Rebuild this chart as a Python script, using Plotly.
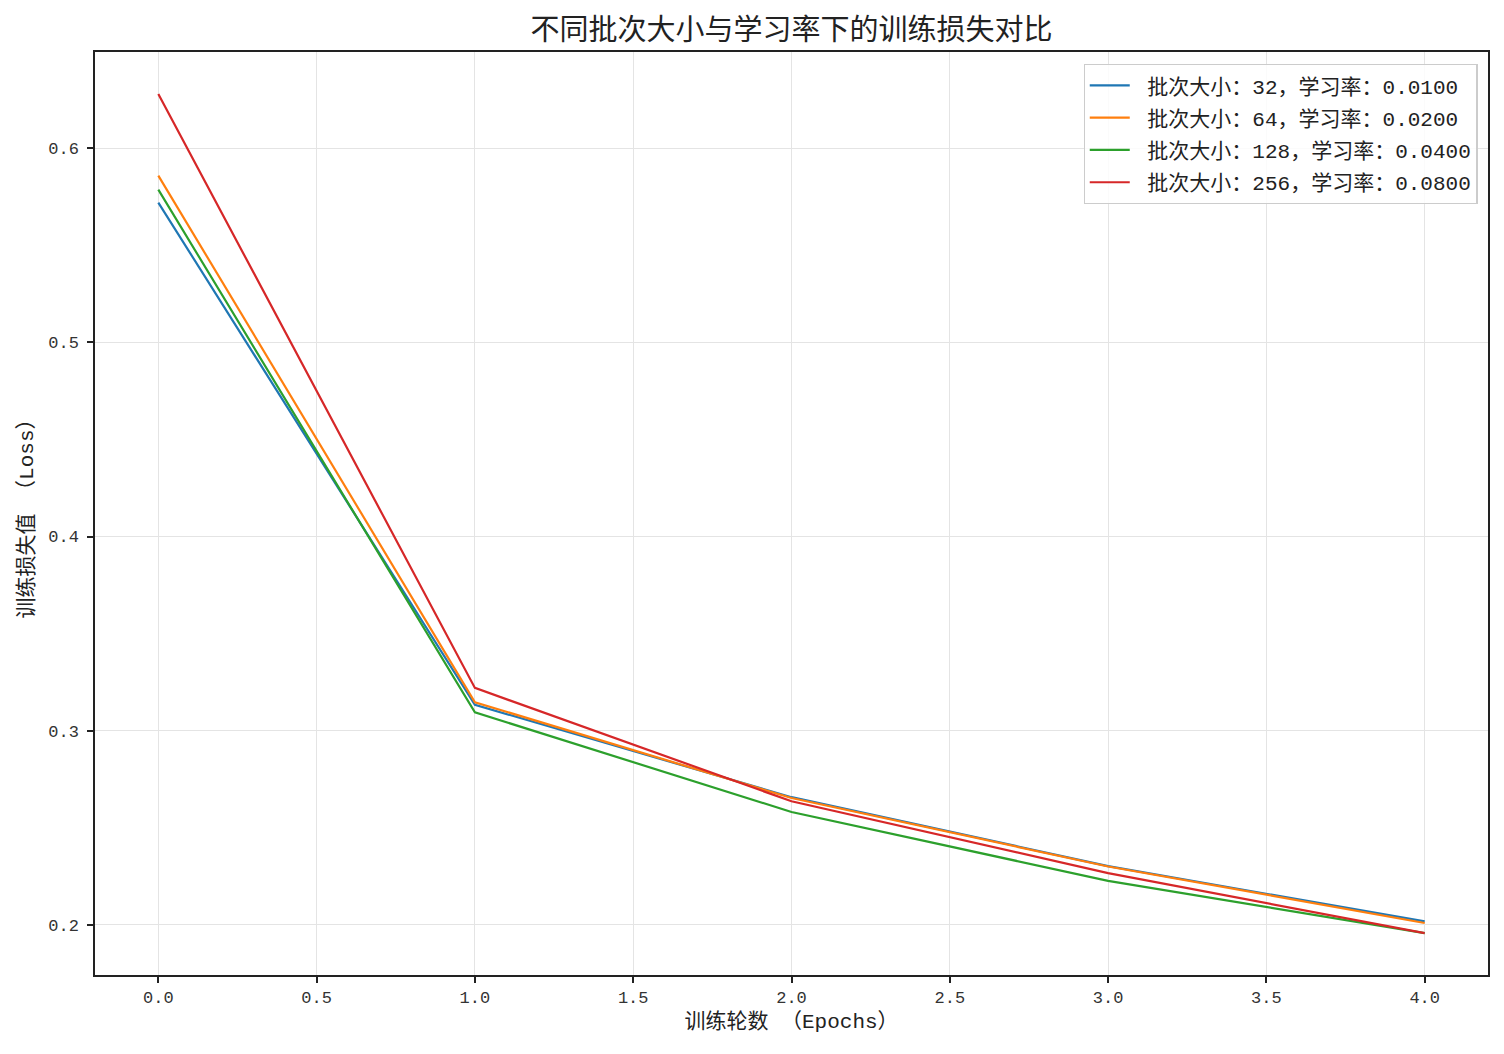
import plotly.graph_objects as go

# 数据
epochs = [0, 1, 2, 3, 4]
batch_sizes = [32, 64, 128, 256]
learning_rates = [0.01, 0.02, 0.04, 0.08]

loss_bs32 = [0.572, 0.3133, 0.2657, 0.2302, 0.2017]
loss_bs64 = [0.5859, 0.3146, 0.2653, 0.2300, 0.2009]
loss_bs128 = [0.5787, 0.3094, 0.2581, 0.2226, 0.1957]
loss_bs256 = [0.628, 0.322, 0.2636, 0.2266, 0.1957]

losses = [loss_bs32, loss_bs64, loss_bs128, loss_bs256]
colors = ['#1f77b4', '#ff7f0e', '#2ca02c', '#d62728']

font_main = 'Liberation Mono, Noto Sans CJK SC'

fig = go.Figure()
for bs, lr, loss, color in zip(batch_sizes, learning_rates, losses, colors):
    fig.add_trace(go.Scatter(
        x=epochs, y=loss, mode='lines',
        name=f' 批次大小：{bs}，学习率：{lr:.4f}',
        legendgroup=str(bs),
        line=dict(color=color, width=2.2),
    ))

axis_common = dict(
    showline=True, linecolor='#222222', linewidth=1.5, mirror=True,
    ticks='outside', ticklen=6, tickwidth=1.5, tickcolor='#222222',
    showgrid=True, gridcolor='#e4e4e4', gridwidth=1.3,
    zeroline=False,
    tickfont=dict(size=17, color='#333333', family=font_main),
)

# 页面 body 有 8px 外边距，所以整体尺寸和边距相应减小
fig.update_layout(
    width=1496, height=1046,
    margin=dict(l=87, r=16, t=44, b=79),
    paper_bgcolor='white', plot_bgcolor='white',
    font=dict(family=font_main, color='#222222'),
    title=dict(text='不同批次大小与学习率下的训练损失对比', x=0.5, xref='paper', xanchor='center',
               y=0.979, yanchor='middle', font=dict(size=29, color='#222222')),
    xaxis=dict(range=[-0.2, 4.2], tickvals=[0, 0.5, 1, 1.5, 2, 2.5, 3, 3.5, 4],
               ticktext=['0.0', '0.5', '1.0', '1.5', '2.0', '2.5', '3.0', '3.5', '4.0'],
               title=dict(text='训练轮数 （Epochs）', font=dict(size=21), standoff=6),
               **axis_common),
    yaxis=dict(range=[0.1741, 0.6496], tickvals=[0.2, 0.3, 0.4, 0.5, 0.6],
               ticktext=['0.2', '0.3', '0.4', '0.5', '0.6'],
               title=dict(text='训练损失值 （Loss）', font=dict(size=21), standoff=9),
               ticklabelstandoff=5,
               **axis_common),
    legend=dict(x=0.9925, y=0.987, xanchor='right', yanchor='top',
                bgcolor='rgba(255,255,255,0.85)', bordercolor='#cccccc', borderwidth=1.2,
                font=dict(size=21, color='#222222'), tracegroupgap=2, itemwidth=40),
)

fig.write_html('out.html')
